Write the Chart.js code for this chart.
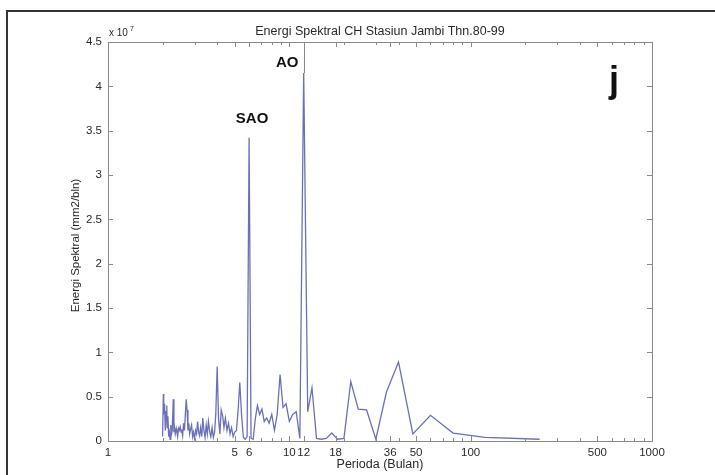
<!DOCTYPE html>
<html>
<head>
<meta charset="utf-8">
<script src="https://cdn.jsdelivr.net/npm/chart.js@4"></script>
<style>
html,body{margin:0;padding:0;background:#fff;}
#wrap{position:relative;width:715px;height:475px;overflow:hidden;}
#frame{position:absolute;left:6px;top:10px;width:800px;height:600px;border-left:2px solid #333;border-top:2px solid #333;}
canvas{position:absolute;left:0;top:0;}
</style>
</head>
<body>
<div id="wrap"><div id="frame"></div><canvas id="myChart" width="715" height="475"></canvas></div>
<script>
const ctx = document.getElementById("myChart").getContext("2d");

// periode (bulan), 240/k untuk k=120..1
const periods=[2.00,2.02,2.03,2.05,2.07,2.09,2.11,2.12,2.14,2.16,
  2.18,2.20,2.22,2.24,2.26,2.29,2.31,2.33,2.35,2.38,
  2.40,2.42,2.45,2.47,2.50,2.53,2.55,2.58,2.61,2.64,
  2.67,2.70,2.73,2.76,2.79,2.82,2.86,2.89,2.93,2.96,
  3.00,3.04,3.08,3.12,3.16,3.20,3.24,3.29,3.33,3.38,
  3.43,3.48,3.53,3.58,3.64,3.69,3.75,3.81,3.87,3.93,
  4.00,4.07,4.14,4.21,4.29,4.36,4.44,4.53,4.62,4.71,
  4.80,4.90,5.00,5.11,5.22,5.33,5.45,5.58,5.71,5.85,
  6.00,6.15,6.32,6.49,6.67,6.86,7.06,7.27,7.50,7.74,
  8.00,8.28,8.57,8.89,9.23,9.60,10.00,10.43,10.91,11.43,
  12.00,12.63,13.33,14.12,15.00,16.00,17.14,18.46,20.00,21.82,
  24.00,26.67,30.00,34.29,40.00,48.00,60.00,80.00,120.00,240.00];

// energi spektral (x 10^7 mm2/bln)
const energy=[0.05,0.53,0.30,0.42,0.12,0.33,0.40,0.15,0.28,0.05,
  0.10,0.02,0.18,0.08,0.12,0.47,0.10,0.15,0.08,0.14,
  0.10,0.05,0.14,0.12,0.16,0.10,0.13,0.06,0.20,0.12,
  0.30,0.47,0.35,0.12,0.20,0.08,0.14,0.18,0.05,0.10,
  0.03,0.12,0.08,0.22,0.10,0.06,0.15,0.05,0.26,0.12,
  0.04,0.18,0.08,0.22,0.10,0.05,0.15,0.04,0.10,0.30,
  0.84,0.25,0.08,0.35,0.28,0.15,0.26,0.12,0.20,0.08,
  0.15,0.05,0.10,0.12,0.35,0.66,0.30,0.04,0.02,0.05,
  3.42,0.03,0.02,0.25,0.40,0.30,0.36,0.22,0.26,0.20,
  0.30,0.12,0.30,0.75,0.38,0.42,0.22,0.30,0.33,0.03,
  4.15,0.33,0.60,0.03,0.02,0.03,0.09,0.02,0.03,0.67,
  0.36,0.35,0.02,0.55,0.89,0.08,0.29,0.09,0.04,0.02];

const xTicks=[1,5,6,10,12,18,36,50,100,500,1000];
const yTicks=[0,0.5,1,1.5,2,2.5,3,3.5,4,4.5];

const peakLabels=['SAO','AO'];
const peakPeriods=[6,12];
const peakValues=[3.42,4.15];

const title="Energi Spektral CH Stasiun Jambi Thn.80-99";
const xTitle="Perioda (Bulan)";
const yTitle="Energi Spektral (mm2/bln)";

let minorTicks=[];
for(let d=1;d<1000;d*=10){
  for(let m=2;m<10;m++){minorTicks.push(m*d);}
}

const points=periods.map((p,i)=>({x:p,y:energy[i]}));

const decor={
  id:'decor',
  afterDraw(chart){
    const c=chart.ctx, a=chart.chartArea;
    const xs=chart.scales.x, ys=chart.scales.y;
    c.save();
    c.strokeStyle='#8a8a8a';
    c.lineWidth=1;
    c.strokeRect(a.left+0.5,a.top+0.5,a.right-a.left,a.bottom-a.top);
    c.beginPath();
    yTicks.forEach(v=>{
      const y=Math.round(ys.getPixelForValue(v))+0.5;
      c.moveTo(a.left,y);c.lineTo(a.left+5,y);
      c.moveTo(a.right,y);c.lineTo(a.right-5,y);
    });
    xTicks.forEach(v=>{
      const x=Math.round(xs.getPixelForValue(v))+0.5;
      c.moveTo(x,a.bottom);c.lineTo(x,a.bottom-5);
      c.moveTo(x,a.top);c.lineTo(x,a.top+5);
    });
    minorTicks.forEach(v=>{
      const x=Math.round(xs.getPixelForValue(v))+0.5;
      c.moveTo(x,a.bottom);c.lineTo(x,a.bottom-3);
      c.moveTo(x,a.top);c.lineTo(x,a.top+3);
    });
    // garis penunjuk AO
    const xa=Math.round(xs.getPixelForValue(peakPeriods[1]))+0.5;
    c.moveTo(xa,a.top);c.lineTo(xa,ys.getPixelForValue(peakValues[1]));
    c.stroke();

    c.fillStyle='#2a2a2a';
    c.font='12.5px Arial, "Liberation Sans", sans-serif';
    c.textAlign='center';
    c.fillText(title,(a.left+a.right)/2,35);
    c.fillText(xTitle,(a.left+a.right)/2,468);
    c.save();
    c.translate(79,(a.top+a.bottom)/2+4);
    c.rotate(-Math.PI/2);
    c.font='11.5px Arial, "Liberation Sans", sans-serif';
    c.fillText(yTitle,0,0);
    c.restore();

    c.textAlign='left';
    c.font='10px Arial, "Liberation Sans", sans-serif';
    c.fillText('x 10',a.left+1,36);
    c.font='7px Arial, "Liberation Sans", sans-serif';
    c.fillText('7',a.left+22,31);

    c.fillStyle='#111';
    c.font='bold 15px Arial, "Liberation Sans", sans-serif';
    c.textAlign='center';
    const sx=xs.getPixelForValue(peakPeriods[0]);
    c.fillText(peakLabels[0],sx+3,ys.getPixelForValue(peakValues[0])-15);
    c.textAlign='right';
    c.fillText(peakLabels[1],xa-6,ys.getPixelForValue(peakValues[1])-6);

    c.textAlign='center';
    c.font='bold 36px Arial, "Liberation Sans", sans-serif';
    c.fillText('j',614,92);
    c.restore();
  }
};

const config={type:'line',
  data:{datasets:[{
    data:points,
    borderColor:'rgba(92,96,175,0.9)',
    borderWidth:1.3,
    pointRadius:0,
    tension:0,
    fill:false
  }]},
  options:{
    responsive:false,
    animation:false,
    layout:{padding:{left:0,top:42,right:63,bottom:0}},
    plugins:{legend:{display:false},tooltip:{enabled:false}},
    scales:{
      x:{
        type:'logarithmic',
        min:1,max:1000,
        afterBuildTicks:(s)=>{s.ticks=xTicks.map(v=>({value:v}));},
        afterFit:(s)=>{s.height=34;},
        grid:{display:false,drawTicks:false},
        border:{color:'#8a8a8a',width:1},
        ticks:{
          autoSkip:false,maxRotation:0,padding:5,
          color:'#2a2a2a',
          font:{family:'Arial, "Liberation Sans", sans-serif',size:11.5},
          callback:(v)=>String(v)
        }
      },
      y:{
        min:0,max:4.5,
        afterBuildTicks:(s)=>{s.ticks=yTicks.map(v=>({value:v}));},
        afterFit:(s)=>{s.width=108;},
        grid:{display:false,drawTicks:false},
        border:{color:'#8a8a8a',width:1},
        ticks:{
          padding:6,
          color:'#2a2a2a',
          font:{family:'Arial, "Liberation Sans", sans-serif',size:11.5},
          callback:(v)=>String(v)
        }
      }
    }
  },
  plugins:[decor]
};

const myChart=new Chart(ctx,config);
</script>
</body>
</html>
